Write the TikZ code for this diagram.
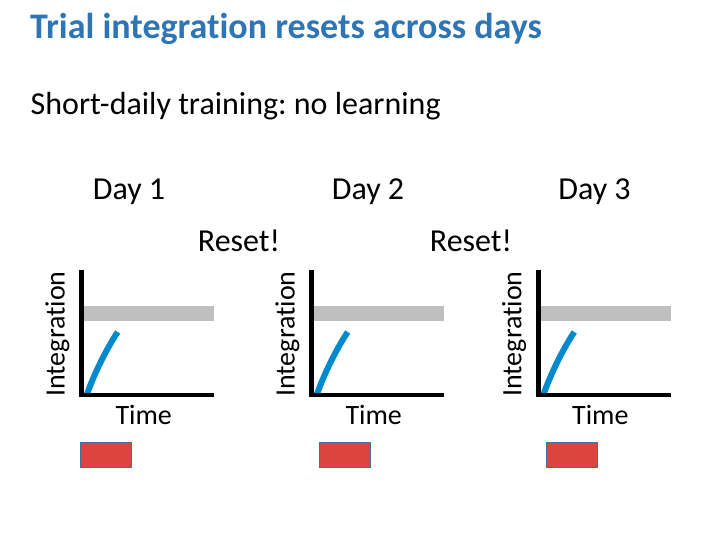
\documentclass[tikz,border=0pt]{standalone}
\usepackage{fontspec}
\setmainfont{Carlito}[Ligatures=NoCommon]
\usetikzlibrary{positioning}
\definecolor{titleblue}{RGB}{46,117,182}
\definecolor{bandgray}{RGB}{191,191,191}
\definecolor{traceblue}{RGB}{0,138,206}
\definecolor{cuered}{RGB}{220,68,61}
\definecolor{cueedge}{RGB}{65,113,156}
\frenchspacing

\begin{document}
\begin{tikzpicture}[
  x=1pt, y=-1pt,
  txt/.style={font=\fontsize{32}{36}\selectfont, inner sep=0pt},
  small/.style={font=\fontsize{28}{32}\selectfont, inner sep=0pt},
  heading/.style={font=\bfseries\fontsize{36}{40}\selectfont, text=titleblue, inner sep=0pt},
  axisline/.style={line width=4.5pt},
  trace/.style={line width=6pt, draw=traceblue},
  cue/.style={fill=cuered, draw=cueedge, line width=0.8pt}
]
  \useasboundingbox (0,0) rectangle (720,540);

  \node[heading, anchor=base west] (title) at (30,38.5) {Trial integration resets across days};
  \node[txt, anchor=base west]     (sub)   at (30.5,115) {Short-daily training: no learning};

  \node[txt, anchor=base] (reset1) at (239,251.7) {Reset!};
  \node[txt, anchor=base] (reset2) at (471,251.7) {Reset!};

  % one panel per day
  \foreach \d/\ox/\dx/\rx in {1/81.7/129/-1, 2/311.7/368/7.6, 3/538.3/594.5/7.7} {
    \node[txt, anchor=base] (day\d) at (\dx,200) {Day \d};
    \fill[bandgray] (\ox+2,306) rectangle (\ox+132.3,321);
    \draw[trace] (\ox+5,395) .. controls (\ox+12,375) and (\ox+24,350) .. (\ox+36,332);
    \draw[axisline] (\ox,270) -- (\ox,395) -- (\ox+132.3,395);
    \node[small, anchor=base] (time\d) at (\ox+62,424) {Time};
    \node[small, anchor=base, rotate=90] (integ\d) at (\ox-17,334) {Integration};
    \draw[cue] (\ox+\rx,442.5) rectangle (\ox+\rx+51,467);
  }
\end{tikzpicture}
\end{document}
